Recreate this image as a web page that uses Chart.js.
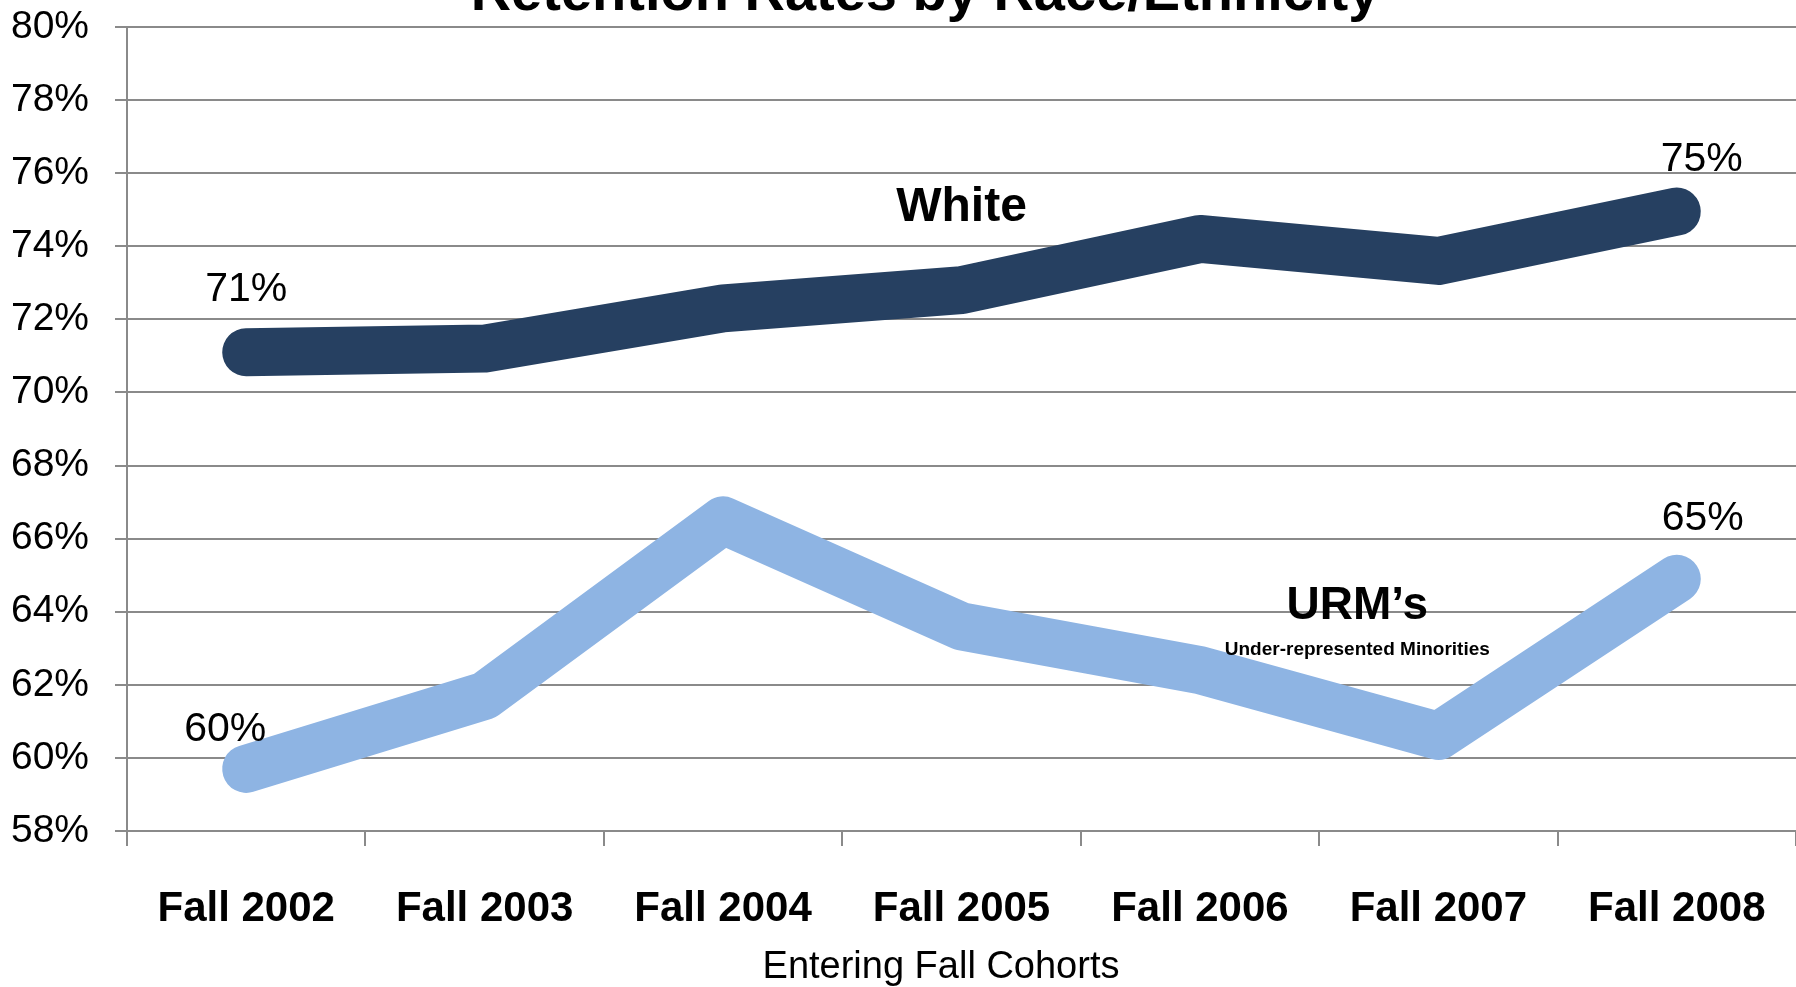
<!DOCTYPE html>
<html>
<head>
<meta charset="utf-8">
<script src="https://cdn.jsdelivr.net/npm/chart.js@4/dist/chart.umd.min.js"></script>
<style>
  html, body { margin: 0; padding: 0; background: #fff; }
  #wrap { width: 1796px; height: 987px; }
</style>
</head>
<body>
<div id="wrap"><canvas id="canvas"></canvas></div>
<script>
const cohorts = ["Fall 2002", "Fall 2003", "Fall 2004", "Fall 2005", "Fall 2006", "Fall 2007", "Fall 2008"]
const whiteRates = [71.1, 71.2, 72.3, 72.8, 74.2, 73.6, 74.95]
const urmRates = [59.7, 61.7, 66.5, 63.6, 62.4, 60.6, 64.9]
const endLabels = [
    { series: 0, index: 0, text: "71%", dx: 0, dy: -63 },
    { series: 0, index: 6, text: "75%", dx: 25, dy: -52 },
    { series: 1, index: 0, text: "60%", dx: -21, dy: -39 },
    { series: 1, index: 6, text: "65%", dx: 26, dy: -60 }
]
const seriesNotes = [
    { text: "White", x: 3, y: 75.05, font: "bold 48px 'Liberation Sans', sans-serif" },
    { text: "URM\u2019s", x: 4.66, y: 64.15, font: "bold 46px 'Liberation Sans', sans-serif" },
    { text: "Under-represented Minorities", x: 4.66, y: 62.95, font: "bold 19px 'Liberation Sans', sans-serif" }
]
const chartTitle = "Retention Rates by Race/Ethnicity"
const xAxisTitle = "Entering Fall Cohorts"

const gridGray = "#8a8a8a"
const fam = "'Liberation Sans', Arial, sans-serif"

const notesPlugin = {
    id: "notes",
    afterDatasetsDraw(chart) {
        let ctx = chart.ctx
        let xs = chart.scales.x, ys = chart.scales.y
        ctx.save()
        ctx.fillStyle = "#000"
        ctx.textAlign = "center"
        ctx.textBaseline = "middle"
        ctx.font = "41px " + fam
        endLabels.forEach(l => {
            let v = chart.data.datasets[l.series].data[l.index]
            ctx.fillText(l.text, xs.getPixelForValue(l.index) + l.dx, ys.getPixelForValue(v) + l.dy)
        })
        seriesNotes.forEach(n => {
            ctx.font = n.font
            ctx.fillText(n.text, xs.getPixelForValue(n.x), ys.getPixelForValue(n.y))
        })
        // axis title sits a little left of the plot centre in the original
        ctx.font = "38px " + fam
        ctx.fillText(xAxisTitle, 941, 968)
        ctx.font = "bold 56px " + fam
        ctx.textBaseline = "alphabetic"
        ctx.fillText(chartTitle, 925, 10)
        ctx.restore()
    }
}

const config = {
    type: "line",
    data: {
        labels: cohorts,
        datasets: [
            {
                label: "White",
                data: whiteRates,
                borderColor: "#264061",
                borderWidth: 48,
                borderCapStyle: "round",
                borderJoinStyle: "round",
                pointRadius: 0,
                tension: 0
            },
            {
                label: "URM's",
                data: urmRates,
                borderColor: "#8eb4e3",
                borderWidth: 48,
                borderCapStyle: "round",
                borderJoinStyle: "round",
                pointRadius: 0,
                tension: 0
            }
        ]
    },
    options: {
        responsive: true,
        maintainAspectRatio: false,
        animation: false,
        layout: { padding: { top: 27, right: 0, left: 0, bottom: 0 } },
        plugins: {
            legend: { display: false },
            tooltip: { enabled: false }
        },
        scales: {
            y: {
                min: 58,
                max: 80,
                ticks: {
                    stepSize: 2,
                    color: "#000",
                    padding: 26,
                    font: { family: fam, size: 39 },
                    callback: v => v + "%"
                },
                grid: { color: gridGray, lineWidth: 2, tickLength: 12 },
                border: { color: gridGray, width: 2 },
                afterFit: s => { s.width = 127; s.paddingTop = 0; s.paddingBottom = 0 }
            },
            x: {
                offset: true,
                ticks: {
                    color: "#000",
                    padding: 38,
                    font: { family: fam, size: 42, weight: "bold" }
                },
                grid: { offset: true, drawOnChartArea: false, color: gridGray, lineWidth: 2, tickLength: 15 },
                border: { color: gridGray, width: 2 },
                afterFit: s => { s.height = 156; s.paddingLeft = 0; s.paddingRight = 0 }
            }
        }
    },
    plugins: [notesPlugin]
}

let chart = new Chart(document.getElementById("canvas").getContext("2d"), config)
</script>
</body>
</html>
